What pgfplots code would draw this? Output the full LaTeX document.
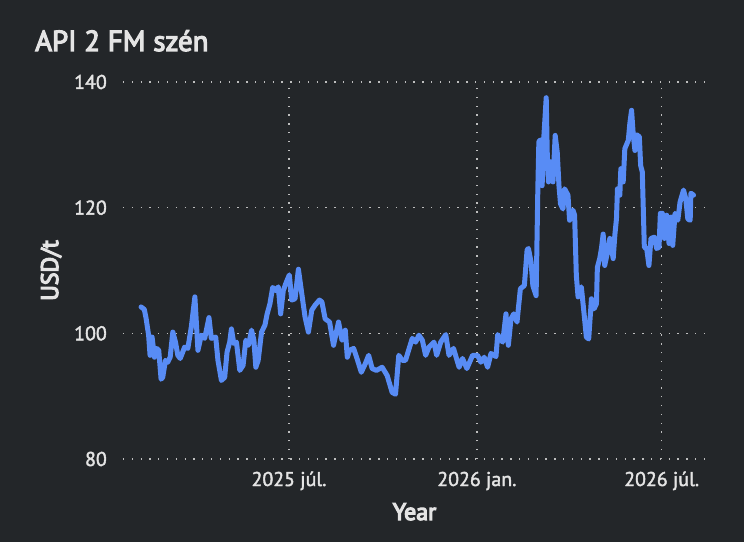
\documentclass[border=0pt]{standalone}
\usepackage{pgfplots}
\pgfplotsset{compat=1.18}
\usepackage{fontspec}
\setmainfont{PT Sans}
\newfontfamily\tickfont{PT Sans}[FakeBold=2]
\newfontfamily\titlefont{PT Sans}[FakeBold=4]
\newfontfamily\labfont{PT Sans}[FakeBold=5]
\definecolor{bg}{RGB}{35,38,41}
\definecolor{txt}{RGB}{228,228,228}
\definecolor{gridc}{RGB}{190,190,190}
\definecolor{lineblue}{RGB}{88,140,245}
\begin{document}
\begin{tikzpicture}
\fill[bg] (-123bp,-83bp) rectangle (621bp,459bp);
\useasboundingbox (-123bp,-83bp) rectangle (621bp,459bp);
\node[anchor=base west, text=txt, font=\titlefont\fontsize{29}{32}\selectfont, inner sep=0pt] at (-88bp,408bp) {API 2 FM szén};
\begin{axis}[
  scale only axis,
  width=583bp, height=377bp,
  xmin=18.4, xmax=589.4,
  ymin=80, ymax=140,
  xtick={181,365,546},
  xticklabels={2025 júl.,2026 jan.,2026 júl.},
  ytick={80,100,120,140},
  axis line style={draw=none},
  major tick length=0pt,
  grid=major,
  major grid style={gridc, line width=1.3bp, dash pattern=on 1.3bp off 7.5bp},
  /pgf/number format/assume math mode=true,
  tick label style={text=txt, font=\tickfont\fontsize{20}{23}\selectfont, inner sep=0pt},
  yticklabel style={anchor=east, xshift=-16bp},
  xticklabel style={anchor=base, yshift=-27bp},
  xlabel={Year},
  ylabel={USD/t},
  label style={text=txt, font=\labfont\fontsize{24}{27}\selectfont, inner sep=0pt},
  xlabel style={at={(axis description cs:0.5,-0.1618)}, anchor=base},
  ylabel style={at={(axis description cs:-0.1115,0.5)}, anchor=base},
  clip=false,
]
\addplot[lineblue, line width=5bp, line join=round, line cap=round] coordinates {
(36.1,104.2)(39.3,103.8)(41.0,102.4)(43.5,99.7)(44.9,96.5)(46.9,99.4)(49.2,96.2)(51.4,97.6)(53.4,97.3)(55.7,92.7)(57.3,93.0)(60.0,95.7)(62.2,95.4)(64.6,96.2)(67.2,100.2)(69.8,98.6)(72.1,96.5)(74.4,96.0)(76.4,96.8)(78.7,97.8)(81.9,97.6)(85.3,101.0)(88.8,105.8)(91.8,97.3)(95.1,99.7)(98.4,99.2)(102.6,102.5)(104.9,99.2)(109.2,99.4)(111.4,95.7)(114.8,92.5)(118.0,93.0)(120.3,97.0)(122.9,98.6)(124.6,100.7)(126.9,98.4)(129.5,98.6)(132.8,94.1)(136.0,94.9)(138.7,98.9)(141.3,98.1)(144.3,100.5)(146.6,98.9)(148.5,94.6)(150.8,95.7)(154.1,100.2)(157.4,101.3)(159.6,103.1)(162.3,104.7)(165.0,107.3)(168.2,106.8)(170.5,107.4)(172.8,103.1)(175.4,106.8)(178.0,108.0)(181.3,109.3)(183.7,105.3)(186.9,105.5)(190.2,110.2)(193.5,106.3)(196.7,102.6)(200.0,100.2)(203.3,103.7)(206.6,104.5)(210.8,105.3)(213.2,105.0)(216.4,102.3)(220.7,101.8)(224.6,98.1)(229.5,101.8)(232.9,98.9)(236.1,100.5)(238.1,96.2)(240.3,97.3)(244.3,97.6)(247.6,96.0)(251.8,93.8)(255.8,95.2)(259.0,96.5)(262.4,94.4)(266.6,94.1)(272.2,94.6)(277.1,93.3)(282.0,90.6)(285.3,90.3)(288.5,96.5)(291.9,95.7)(295.1,95.7)(301.7,99.2)(305.0,98.6)(308.2,99.7)(311.6,98.9)(314.8,96.5)(318.1,97.8)(323.0,98.6)(325.6,96.5)(329.6,98.6)(334.5,99.8)(337.7,96.5)(342.1,97.6)(347.6,94.6)(350.9,96.0)(355.2,94.4)(360.8,96.5)(365.7,96.5)(368.9,95.4)(372.2,96.2)(375.5,94.6)(378.8,96.8)(383.7,96.3)(385.4,99.8)(390.3,98.6)(393.5,103.1)(395.8,98.1)(398.4,102.3)(401.1,103.1)(404.3,101.8)(407.6,107.1)(411.5,107.6)(414.2,113.3)(415.5,113.5)(418.1,111.3)(419.8,107.6)(423.0,106.0)(424.7,123.0)(425.7,130.5)(427.3,130.8)(428.9,123.5)(430.6,131.3)(432.9,137.5)(433.9,128.8)(435.1,124.1)(437.1,127.3)(439.5,124.1)(441.7,131.5)(443.7,128.8)(445.4,123.5)(446.9,120.6)(449.3,119.8)(450.9,123.0)(454.2,122.0)(455.8,118.0)(459.1,119.6)(460.7,118.8)(462.4,109.2)(464.1,105.8)(467.3,107.4)(470.0,103.1)(472.2,99.4)(474.5,99.1)(477.2,105.5)(479.8,103.9)(482.1,104.7)(483.0,110.5)(485.3,111.9)(487.0,113.5)(488.7,115.8)(490.2,110.8)(492.9,112.9)(495.2,115.1)(498.5,111.9)(500.1,115.6)(501.7,118.2)(502.7,123.0)(505.0,122.0)(506.0,126.2)(508.3,124.1)(509.9,129.4)(513.3,130.7)(514.8,133.4)(516.5,135.5)(518.2,131.5)(519.8,129.1)(521.4,131.6)(524.1,131.3)(525.4,126.7)(527.0,125.7)(529.0,113.7)(531.3,113.5)(533.5,110.8)(535.5,115.1)(538.8,115.3)(541.1,113.5)(543.4,113.7)(544.7,119.1)(546.7,119.1)(548.7,115.1)(550.9,118.8)(553.2,114.3)(555.2,118.5)(556.8,114.0)(559.1,119.1)(561.8,118.0)(564.0,120.9)(567.4,122.8)(569.6,121.4)(571.6,118.2)(573.9,118.0)(574.6,122.3)(577.2,122.0)
};
\end{axis}
\end{tikzpicture}
\end{document}
